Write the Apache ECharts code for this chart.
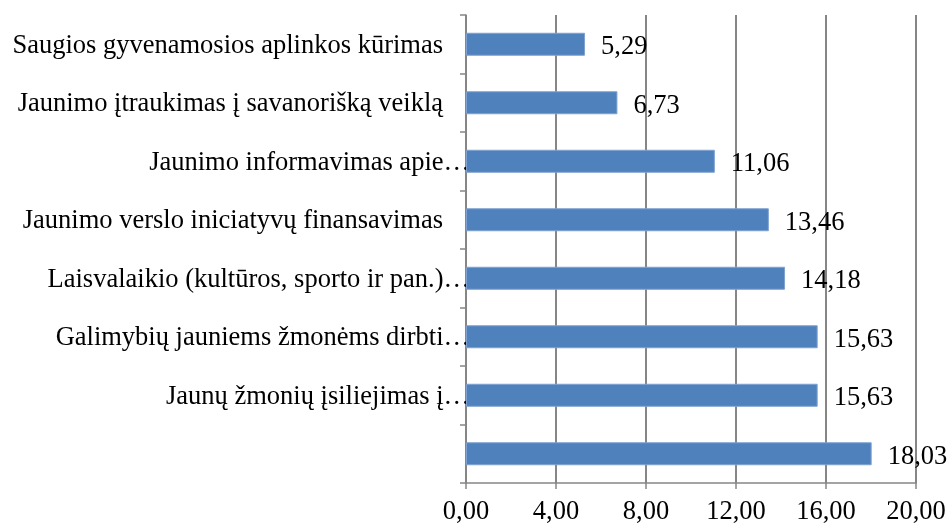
<!DOCTYPE html>
<html><head><meta charset="utf-8">
<script src="https://cdn.jsdelivr.net/npm/echarts@6/dist/echarts.min.js"></script>
<style>html,body{margin:0;padding:0;background:#fff}#c{width:949px;height:526px}</style>
</head><body><div id="c"></div>
<script>
const categories = [
  "Saugios gyvenamosios aplinkos kūrimas",
  "Jaunimo įtraukimas į savanorišką veiklą",
  "Jaunimo informavimas apie…",
  "Jaunimo verslo iniciatyvų finansavimas",
  "Laisvalaikio (kultūros, sporto ir pan.)…",
  "Galimybių jauniems žmonėms dirbti…",
  "Jaunų žmonių įsiliejimas į…",
  ""
];
const values = [5.29, 6.73, 11.06, 13.46, 14.18, 15.63, 15.63, 18.03];
const xMin = 0, xMax = 20, xStep = 4;

const font = "'Liberation Serif','Times New Roman',serif";
const FS = 26.5;
const fmt = v => v.toFixed(2).replace('.', ',');
const chart = echarts.init(document.getElementById('c'));
chart.setOption({
  animation: false,
  grid: {left: 466, right: 33, top: 15, bottom: 42},
  xAxis: {
    type: 'value', min: xMin, max: xMax, interval: xStep,
    axisLine: {show: true, lineStyle: {color: '#868686', width: 1.5}},
    axisTick: {show: true, length: 6, lineStyle: {color: '#868686', width: 1.5}},
    splitLine: {show: true, lineStyle: {color: '#868686', width: 2}},
    axisLabel: {formatter: fmt, fontFamily: font, fontSize: FS, color: '#000', margin: 16}
  },
  yAxis: {
    type: 'category', data: categories, inverse: true,
    axisLine: {show: true, lineStyle: {color: '#868686', width: 1.5}},
    axisTick: {show: true, length: 6, lineStyle: {color: '#868686', width: 1.5}},
    axisLabel: {
      fontFamily: font, fontSize: FS, color: '#000', margin: -4,
      formatter: v => v.endsWith('…') ? '{e|' + v + '}' : '{n|' + v + '}',
      rich: {
        e: {fontFamily: font, fontSize: FS, color: '#000', padding: [3, 0, 0, 0]},
        n: {fontFamily: font, fontSize: FS, color: '#000', padding: [3, 27, 0, 0]}
      }
    }
  },
  series: [{
    type: 'bar', data: values, barWidth: 23,
    itemStyle: {color: '#4F81BD', borderColor: '#7FA2D0', borderWidth: 1},
    label: {show: true, position: 'right', distance: 16, offset: [0, 3],
      formatter: p => fmt(p.value), fontFamily: font, fontSize: FS, color: '#000'}
  }]
});
</script></body></html>
